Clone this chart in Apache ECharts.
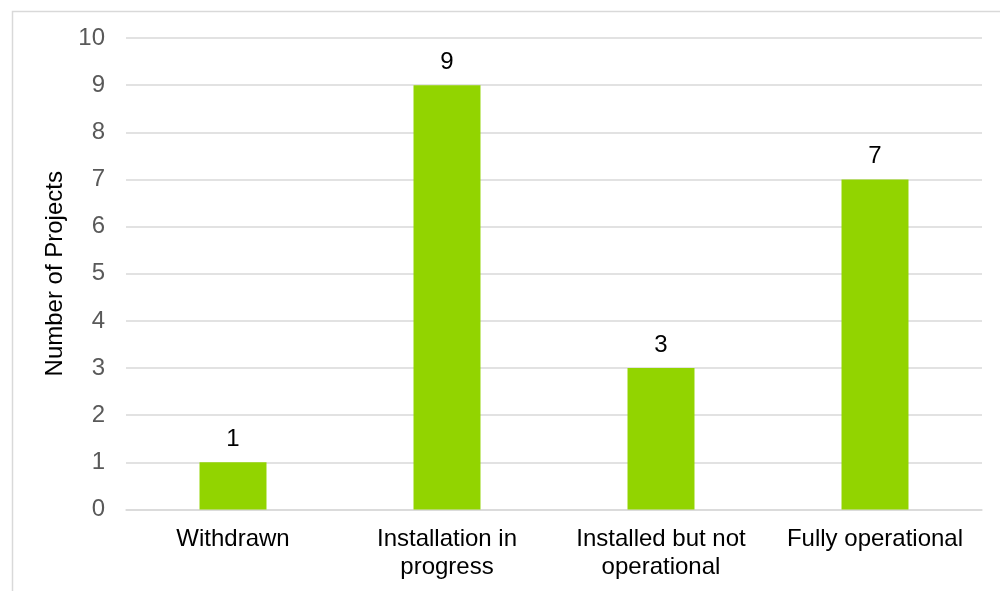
<!DOCTYPE html>
<html lang="en">
<head>
    <meta charset="UTF-8">
    <title>Projects by status</title>
    <script src="https://cdn.jsdelivr.net/npm/echarts@6/dist/echarts.min.js"></script>
    <style>
        body { margin: 0; background: #fff; }
    </style>
</head>
<body>
    <div id="main" style="width:1000px; height:591px"></div>
    <script type="text/javascript">
        // data
        var categories = ['Withdrawn', 'Installation in\nprogress', 'Installed but not\noperational', 'Fully operational'];
        var projectCounts = [1, 9, 3, 7];
        var yTicks = [0, 10, 1]; // min, max, interval

        var chartDom = document.getElementById('main');
        var myChart = echarts.init(chartDom);
        var font = 'Liberation Sans, Arial, sans-serif';

        var option = {
            animation: false,
            backgroundColor: '#fff',
            graphic: [{
                type: 'rect',
                left: 10,
                top: 9,
                shape: { width: 1100, height: 700 },
                style: { fill: 'none', stroke: '#d9d9d9', lineWidth: 1.5 },
                silent: true
            }],
            grid: {
                left: 126,
                right: 18,
                top: 38,
                bottom: 81.5
            },
            xAxis: {
                type: 'category',
                data: categories,
                axisLine: { show: true, lineStyle: { color: '#d9d9d9', width: 1.5 } },
                axisTick: { show: false },
                axisLabel: {
                    color: '#000',
                    fontFamily: font,
                    fontSize: 24,
                    lineHeight: 28,
                    margin: 16,
                    interval: 0
                }
            },
            yAxis: {
                type: 'value',
                min: yTicks[0],
                max: yTicks[1],
                interval: yTicks[2],
                name: 'Number of Projects',
                nameLocation: 'middle',
                nameGap: 58,
                nameTextStyle: { color: '#000', fontFamily: font, fontSize: 24 },
                axisLine: { show: false },
                axisTick: { show: false },
                axisLabel: {
                    color: '#595959',
                    fontFamily: font,
                    fontSize: 24,
                    margin: 21
                },
                splitLine: { lineStyle: { color: '#d9d9d9', width: 1.5 } }
            },
            series: [{
                type: 'bar',
                data: projectCounts,
                barWidth: '31.3%',
                itemStyle: { color: '#92d400' },
                label: {
                    show: true,
                    position: 'top',
                    distance: 11,
                    color: '#000',
                    fontFamily: font,
                    fontSize: 24
                }
            }]
        };

        myChart.setOption(option);
    </script>
</body>
</html>
